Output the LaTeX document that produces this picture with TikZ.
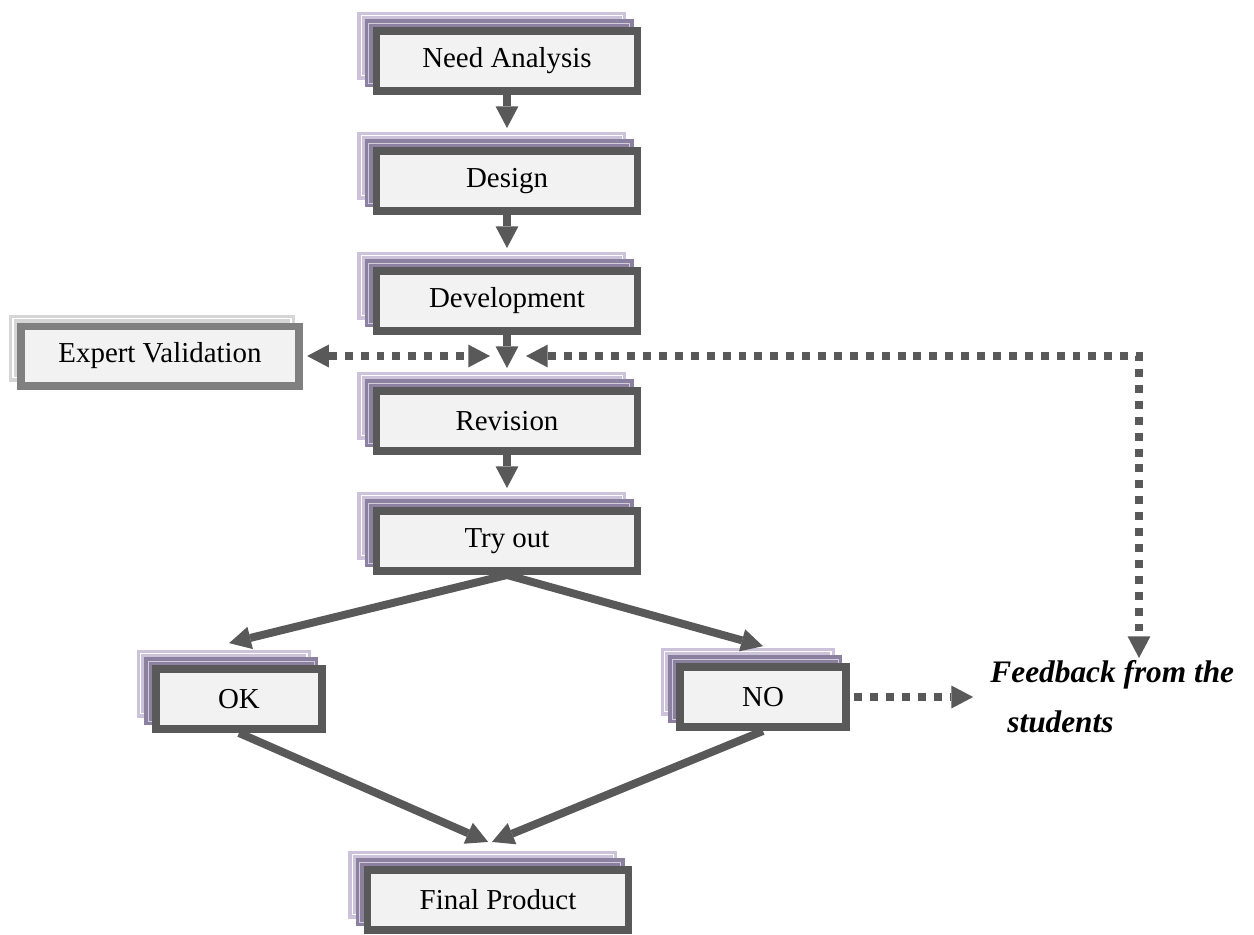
\documentclass[tikz,border=0pt]{standalone}
\usepackage{fontspec}
\setmainfont{Liberation Serif}
\usetikzlibrary{arrows.meta,shadows}

\definecolor{linegray}{HTML}{595959}
\definecolor{boxfill}{HTML}{F2F2F2}
\definecolor{lavlight}{HTML}{CCC3DA}
\definecolor{lavdark}{HTML}{8C80A0}
\definecolor{expgray}{HTML}{808080}
\definecolor{expshade}{HTML}{D6D6D6}

\tikzset{
  stage/.style={draw=linegray, line width=3.3pt, fill=boxfill,
    minimum width=108.3pt, minimum height=24.9pt, inner sep=0pt,
    font=\fontsize{12}{14}\selectfont,
    copy shadow={shadow xshift=-6.3pt, shadow yshift=6.3pt, fill=lavlight,
      draw=lavlight, line width=1.4pt, double=white, double distance=0.5pt},
    copy shadow={shadow xshift=-3.2pt, shadow yshift=3.2pt, fill=lavdark,
      draw=lavdark, line width=1.4pt, double=lavdark!40!white, double distance=0.5pt}},
  expert/.style={draw=expgray, line width=3.3pt, fill=boxfill,
    minimum width=115.4pt, minimum height=24.5pt, inner sep=0pt,
    font=\fontsize{12}{14}\selectfont,
    copy shadow={shadow xshift=-3.3pt, shadow yshift=3.3pt, fill=expshade,
      draw=expshade, line width=1.4pt, double=white, double distance=0.5pt}},
  tip/.tip={Triangle[width=9.5pt,length=9pt,line width=0pt]},
  flow/.style={color=linegray, line width=3.3pt, -tip},
  feedline/.style={draw=linegray, line width=3.3pt, dash pattern=on 3.3pt off 3.3pt}
}

\begin{document}
\begin{tikzpicture}[x=0.415pt, y=-0.415pt]
\useasboundingbox (0,0) rectangle (1254,934);

% main column
\node[stage] (need)   at (507,61)  {Need Analysis};
\node[stage] (design) at (507,181) {Design};
\node[stage] (devel)  at (507,301) {Development};
\node[stage] (revis)  at (507,421) {Revision};
\node[stage] (tryout) at (507,541) {Try out};
\node[stage, minimum width=69pt] (ok) at (239,699) {OK};
\node[stage, minimum width=69pt] (no) at (763,697) {NO};
\node[stage] (final)  at (498,900) {Final Product};

% side nodes
\node[expert] (valid) at (160,356) {Expert Validation};
\node[anchor=west, inner sep=0pt, align=left,
  font=\fontsize{13}{20.7}\selectfont\bfseries\itshape] (feed) at (990,697)
  {Feedback from the\\\hspace*{7pt}students};

\coordinate (hubL) at (490,356);
\coordinate (hubR) at (526,356);
\coordinate (bend) at (1139,356);

\path[flow]
(need.south)   edge ([yshift=7.9pt]design.north)
(design.south) edge ([yshift=7.9pt]devel.north)
(devel.south)  edge ([yshift=7.9pt]revis.north)
(revis.south)  edge ([yshift=7.9pt]tryout.north)
(tryout.south) edge ([xshift=-4.1pt,yshift=9.1pt]ok.north)
(tryout.south) edge ([yshift=7pt]no.north)
(ok.south)     edge ([xshift=-4.1pt,yshift=10pt]final.north)
(no.south)     edge ([xshift=-2.5pt,yshift=10pt]final.north)
;
\draw[feedline, tip-tip, shorten <=1.7pt] (valid.east) -- (hubL);
\draw[feedline, tip-tip] (hubR) -- (bend) -- ([yshift=1pt]bend |- feed.north);
\draw[feedline, -tip, shorten <=1.7pt] (no.east) -- ([xshift=-7pt]no.east -| feed.west);
\end{tikzpicture}
\end{document}
